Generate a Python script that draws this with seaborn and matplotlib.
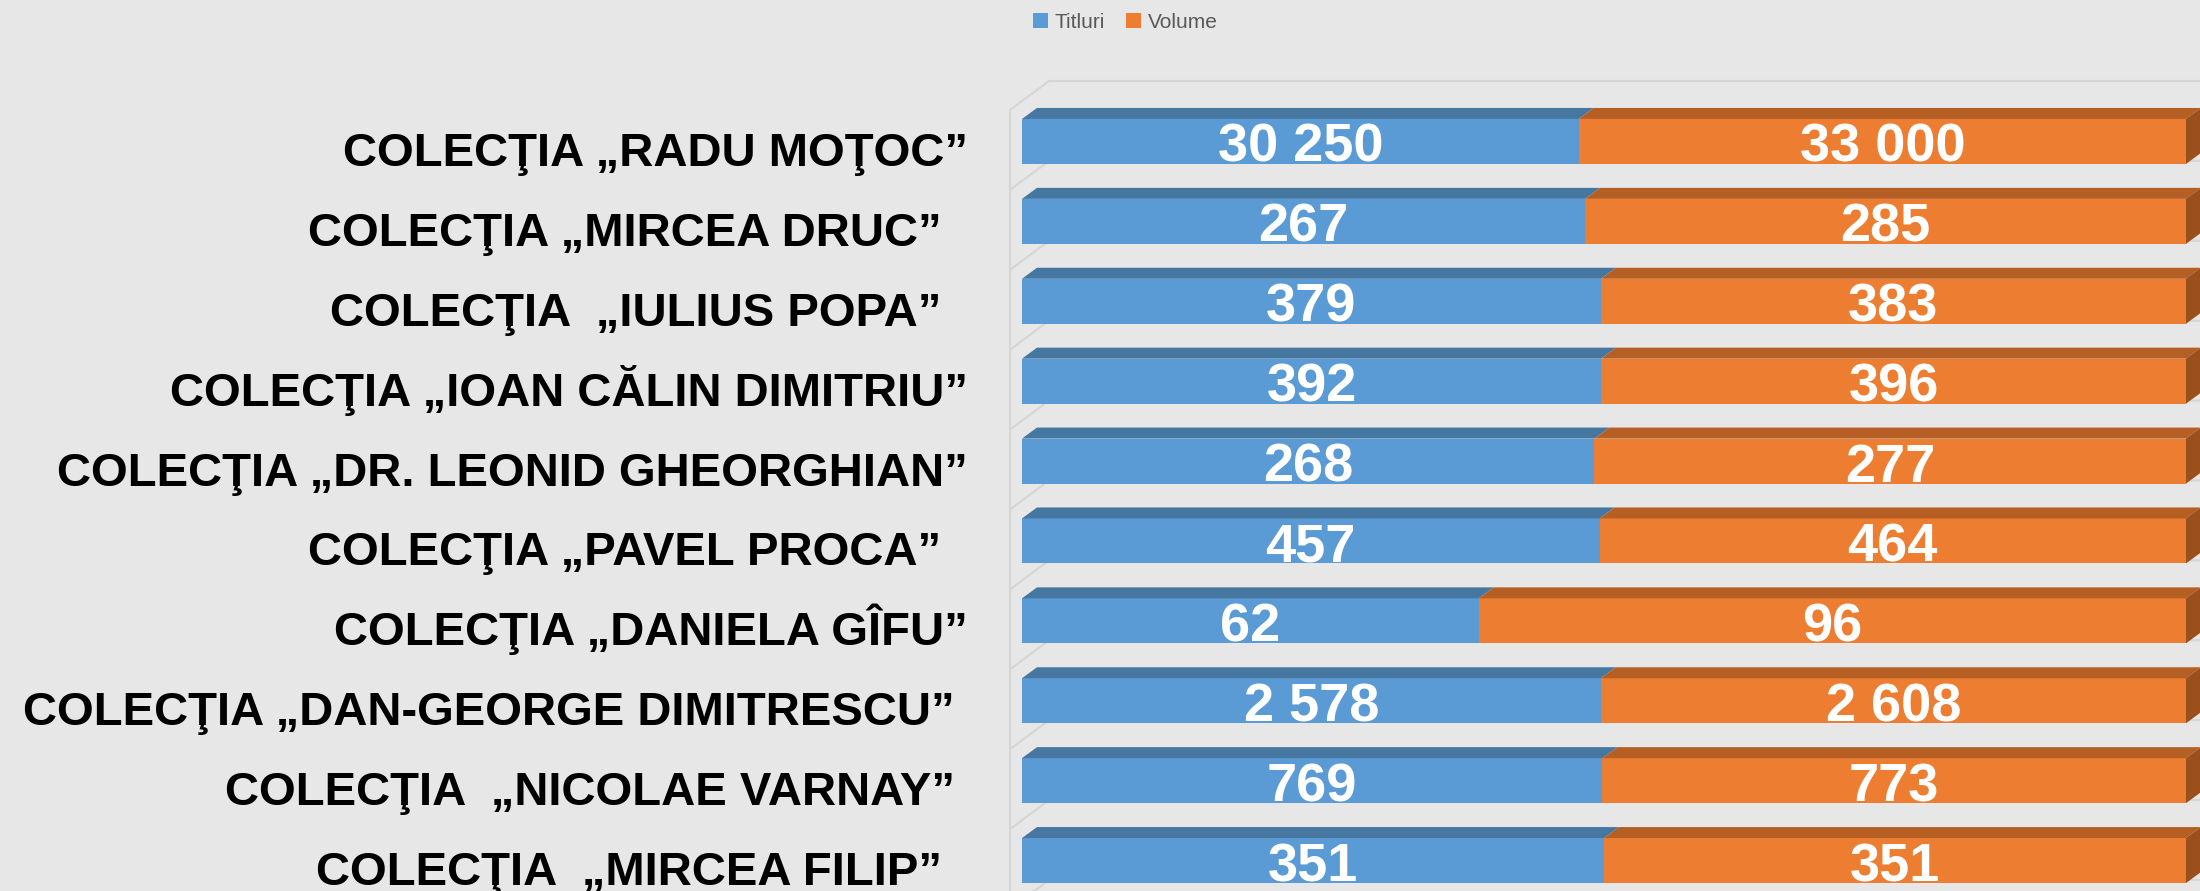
import numpy as np
import pandas as pd
import matplotlib
matplotlib.use("Agg")
import matplotlib.pyplot as plt
import seaborn as sns
from matplotlib.patches import Polygon, Patch
from matplotlib.transforms import ScaledTranslation
from matplotlib import font_manager as fm

# ---------------- data ----------------
categories = [
    "COLECŢIA „RADU MOŢOC”",
    "COLECŢIA „MIRCEA DRUC”  ",
    "COLECŢIA  „IULIUS POPA”  ",
    "COLECŢIA „IOAN CĂLIN DIMITRIU”",
    "COLECŢIA „DR. LEONID GHEORGHIAN”",
    "COLECŢIA „PAVEL PROCA”  ",
    "COLECŢIA „DANIELA GÎFU”",
    "COLECŢIA „DAN-GEORGE DIMITRESCU” ",
    "COLECŢIA  „NICOLAE VARNAY” ",
    "COLECŢIA  „MIRCEA FILIP”  ",
]
titluri = [30250, 267, 379, 392, 268, 457, 62, 2578, 769, 351]
volume = [33000, 285, 383, 396, 277, 464, 96, 2608, 773, 351]
series_names = ["Titluri", "Volume"]

# ---------------- style ----------------
BG = "#E7E7E7"
BLUE, BLUE_TOP = "#5B9BD5", "#4577A1"
ORANGE, ORANGE_TOP, ORANGE_SIDE = "#ED7D31", "#B65F24", "#9A4F1D"
WALL = "#D6D6D6"

sns.set_theme(style="white")
names = {f.name for f in fm.fontManager.ttflist}
narrow = "Liberation Sans Narrow" in names
plt.rcParams["font.family"] = ["Liberation Sans", "DejaVu Sans"]

W, H, DPI = 2200, 891, 100
fig = plt.figure(figsize=(W / DPI, H / DPI), dpi=DPI, facecolor=BG)

ax_left_px, ax_w_px, ax_top_px = 1022, 1164, 101.5
ax = fig.add_axes([ax_left_px / W, 0, ax_w_px / W, (H - ax_top_px) / H])
ax.set_facecolor("none")

df = pd.DataFrame({"cat": categories, "Titluri": titluri, "Volume": volume})
df["total"] = df["Titluri"] + df["Volume"]
df["frac_t"] = df["Titluri"] / df["total"]
df["frac_all"] = df["total"] / df["total"]

bar_w = 0.563
sns.barplot(data=df, y="cat", x="frac_all", color=ORANGE, saturation=1,
            width=bar_w, orient="h", ax=ax, zorder=3, linewidth=0)
n = len(categories)
orange_patches = list(ax.patches)[:n]
sns.barplot(data=df, y="cat", x="frac_t", color=BLUE, saturation=1,
            width=bar_w, orient="h", ax=ax, zorder=3, linewidth=0)
blue_patches = list(ax.patches)[n:2 * n]

px_per_unit = 79.9
ax.set_xlim(0, 1)
ax.set_ylim(-0.5 + (H - ax_top_px) / px_per_unit, -0.5)

fig.canvas.draw()
to_disp = ax.transData.transform
to_data = ax.transData.inverted().transform
DX, DY = 15, 11  # 3-D depth of the bars in pixels


def poly(pts_disp, color, z):
    pts = to_data(np.array(pts_disp))
    ax.add_patch(Polygon(pts, closed=True, facecolor=color, edgecolor="none",
                         zorder=z, clip_on=False))


for pb, po in zip(blue_patches, orange_patches):
    y_top = min(pb.get_y(), pb.get_y() + pb.get_height())
    y_bot = max(pb.get_y(), pb.get_y() + pb.get_height())
    xb0, yt = to_disp((pb.get_x(), y_top))
    xb1, _ = to_disp((pb.get_x() + pb.get_width(), y_top))
    xo1, yb = to_disp((po.get_x() + po.get_width(), y_bot))
    poly([(xb0, yt), (xb0 + DX, yt + DY), (xb1 + DX, yt + DY), (xb1, yt)], BLUE_TOP, 4)
    poly([(xb1, yt), (xb1 + DX, yt + DY), (xo1 + DX, yt + DY), (xo1, yt)], ORANGE_TOP, 5)
    poly([(xo1, yt), (xo1 + DX, yt + DY), (xo1 + DX, yb + DY), (xo1, yb)], ORANGE_SIDE, 5)

# back/left walls (3-D frame)
WX, WY = 39, 29
x_wall, _ = to_disp((0, 0))
x_wall -= 12
bounds = np.arange(n + 1) - 0.5
for k, b in enumerate(bounds):
    _, yb_disp = to_disp((0, b))
    yf = yb_disp - 8.5
    pts = to_data(np.array([(x_wall, yf), (x_wall + WX, yf + WY), (W + 50, yf + WY)]))
    ax.plot(pts[:, 0], pts[:, 1], color=WALL, lw=1.6, zorder=1, clip_on=False,
            solid_capstyle="butt")
_, y_first = to_disp((0, -0.5))
pts = to_data(np.array([(x_wall, y_first - 8.5), (x_wall, -20)]))
ax.plot(pts[:, 0], pts[:, 1], color=WALL, lw=1.6, zorder=1, clip_on=False)

# data labels
lab_font = dict(family=["Liberation Sans"], fontsize=39, fontweight="bold", color="white")
lab_off = ax.transData + ScaledTranslation(0, -20.5 / DPI, fig.dpi_scale_trans)


def fmt(v):
    return f"{v:,}".replace(",", " ")


for i, (pb, po) in enumerate(zip(blue_patches, orange_patches)):
    yc = pb.get_y() + pb.get_height() / 2
    xb = pb.get_x() + pb.get_width() / 2
    xo = (pb.get_x() + pb.get_width() + po.get_x() + po.get_width()) / 2
    ax.text(xb, yc, fmt(titluri[i]), ha="center", va="baseline", zorder=6,
            transform=lab_off, **lab_font)
    ax.text(xo, yc, fmt(volume[i]), ha="center", va="baseline", zorder=6,
            transform=lab_off, **lab_font)

# axes cosmetics
ax.set_xlabel("")
ax.set_ylabel("")
ax.set_xticks([])
sns.despine(ax=ax, left=True, bottom=True)
ax.tick_params(axis="y", length=0, pad=39)
ax.set_yticks(range(n))
ax.set_yticklabels(categories, fontsize=34, fontweight="bold", color="#000000",
                   family=["Liberation Sans", "DejaVu Sans"])
off = ScaledTranslation(0, -24.5 / DPI, fig.dpi_scale_trans)
for t in ax.get_yticklabels():
    t.set_verticalalignment("baseline")
    t.set_transform(t.get_transform() + off)

# legend
handles = [Patch(facecolor=BLUE, edgecolor="none"), Patch(facecolor=ORANGE, edgecolor="none")]
fig.legend(handles, series_names, loc="center", bbox_to_anchor=(1125 / W, 1 - 22 / H),
           ncol=2, frameon=False, fontsize=15, handlelength=0.75, handleheight=0.75,
           handletextpad=0.3, columnspacing=1.0, labelcolor="#595959")

fig.savefig("out.png", dpi=DPI, facecolor=BG)
